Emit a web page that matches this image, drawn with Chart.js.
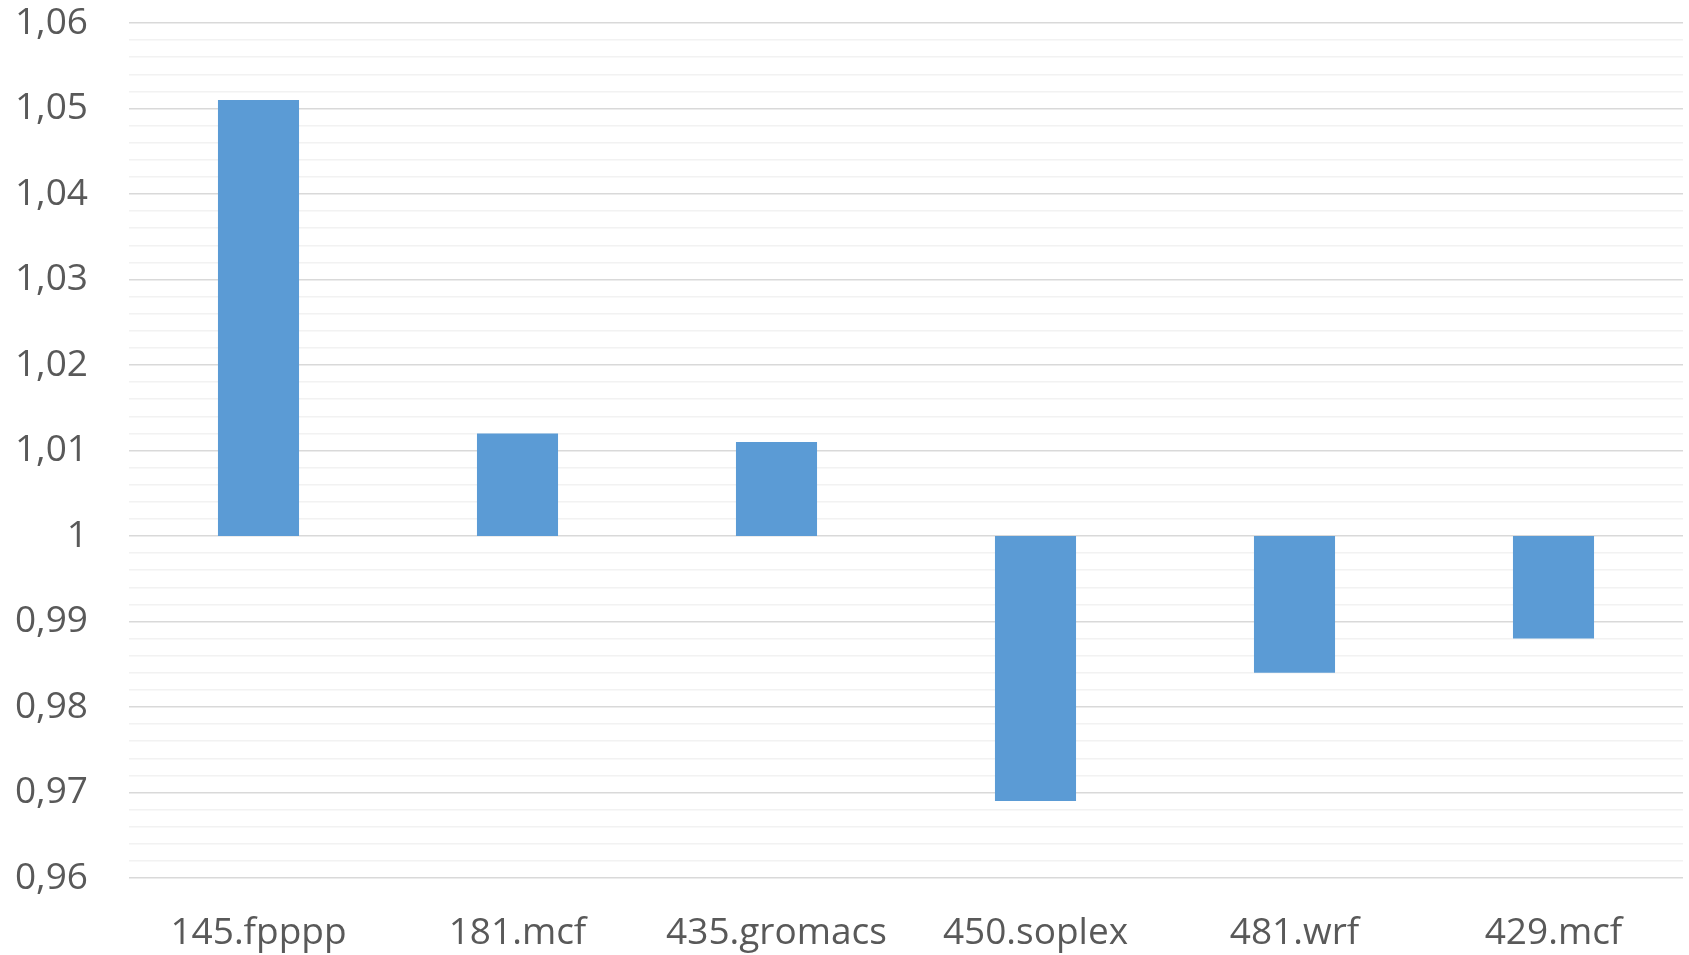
<!DOCTYPE html>
<html>
<head>
<meta charset="utf-8">
<script src="https://cdn.jsdelivr.net/npm/chart.js@4"></script>
<style>
  html, body { margin: 0; padding: 0; background: #fff; }
  #wrap { width: 1689px; height: 955px; position: relative; }
</style>
</head>
<body>
<div id="wrap"><canvas id="chart"></canvas></div>
<script>
const categories = ['145.fpppp', '181.mcf', '435.gromacs', '450.soplex', '481.wrf', '429.mcf'];
const ratios = [1.051, 1.012, 1.011, 0.969, 0.984, 0.988];
const baseline = 1;
const yMin = 0.96;
const yMax = 1.06;

const isMajor = v => Math.abs(Math.round(v * 100) - v * 100) < 1e-6;

const ctx = document.getElementById('chart').getContext('2d');
new Chart(ctx, {
    type: 'bar',
    data: {
        labels: categories,
        datasets: [{
            data: ratios.map(v => [baseline, v]),
            backgroundColor: '#5B9BD5',
            borderColor: '#5B9BD5',
            borderWidth: 0,
            borderSkipped: false,
            barPercentage: 0.313,
            categoryPercentage: 1
        }]
    },
    options: {
        responsive: true,
        maintainAspectRatio: false,
        animation: false,
        layout: {
            padding: { top: 23, right: 6, bottom: 0, left: 0 }
        },
        plugins: {
            legend: { display: false },
            tooltip: { enabled: false }
        },
        scales: {
            x: {
                grid: { display: false, drawTicks: false },
                border: { display: false },
                ticks: {
                    color: '#595959',
                    font: { family: 'Open Sans', size: 37 },
                    padding: 33,
                    maxRotation: 0
                },
                afterFit: scale => {
                    scale.height = 77;
                    scale.paddingLeft = 0;
                    scale.paddingRight = 0;
                }
            },
            y: {
                min: yMin,
                max: yMax,
                border: { display: false },
                grid: {
                    drawTicks: false,
                    lineWidth: 1.5,
                    color: c => isMajor(c.tick.value) ? '#d9d9d9' : '#f2f2f2'
                },
                ticks: {
                    stepSize: 0.002,
                    autoSkip: false,
                    color: '#595959',
                    font: { family: 'Open Sans', size: 37 },
                    padding: 41,
                    callback: v => isMajor(v) ? String(Number(v.toFixed(2))).replace('.', ',') : ''
                },
                afterFit: scale => {
                    scale.width = 129;
                    scale.paddingTop = 0;
                    scale.paddingBottom = 0;
                }
            }
        }
    }
});
</script>
</body>
</html>
